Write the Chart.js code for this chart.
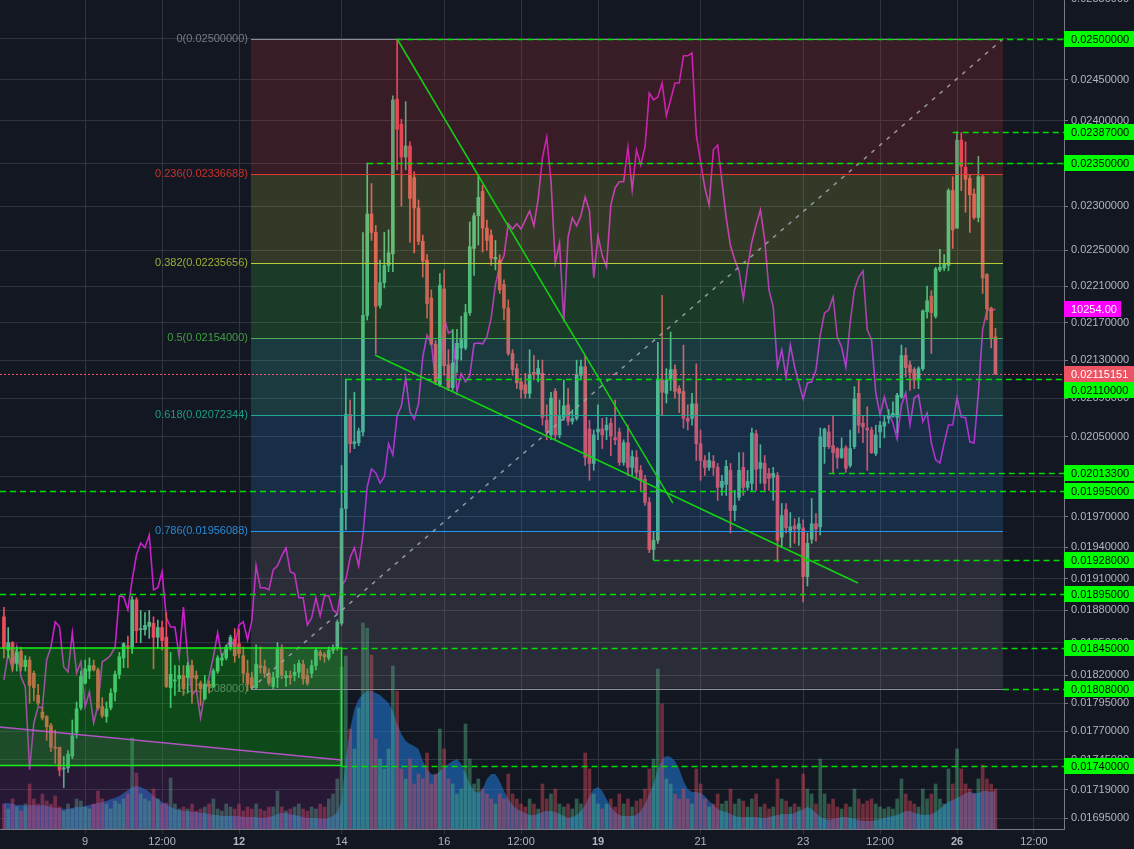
<!DOCTYPE html>
<html><head><meta charset="utf-8">
<script src="https://cdn.jsdelivr.net/npm/chart.js@4.4.0/dist/chart.umd.min.js"></script>
<style>html,body{margin:0;padding:0;background:#131722;overflow:hidden}canvas{display:block}</style>
</head><body>
<canvas id="c" width="1134" height="849"></canvas>
<script>
// ---- time axis (2h candles) ----
const startDay = 7 + 10/24;
const stepDay = 1/12;
// ---- OHLC ----
const open = [
0.01874,0.01843,0.01850,0.01831,0.01842,0.01828,0.01834,0.01822,0.01802,0.01787,
0.01783,0.01775,0.01756,0.01756,0.01737,0.01738,0.01748,0.01769,0.01791,0.01813,
0.01824,0.01829,0.01825,0.01792,0.01783,0.01791,0.01805,0.01821,0.01836,0.01847,
0.01846,0.01890,0.01862,0.01862,0.01865,0.01868,0.01855,0.01864,0.01855,0.01809,
0.01815,0.01817,0.01820,0.01818,0.01829,0.01820,0.01813,0.01799,0.01812,0.01810,
0.01824,0.01834,0.01836,0.01846,0.01853,0.01849,0.01838,0.01822,0.01818,0.01809,
0.01829,0.01828,0.01822,0.01810,0.01818,0.01844,0.01818,0.01820,0.01820,0.01823,
0.01830,0.01820,0.01822,0.01829,0.01841,0.01839,0.01836,0.01843,0.01845,0.01868,
0.01978,0.02073,0.02043,0.02044,0.02055,0.02178,0.02291,0.02270,0.02189,0.02214,
0.02233,0.02246,0.02426,0.02396,0.02357,0.02370,0.02333,0.02298,0.02260,0.02239,
0.02197,0.02147,0.02104,0.02207,0.02125,0.02101,0.02131,0.02143,0.02143,0.02181,
0.02252,0.02289,0.02317,0.02275,0.02267,0.02240,0.02239,0.02212,0.02186,0.02137,
0.02121,0.02107,0.02104,0.02095,0.02117,0.02115,0.02116,0.02067,0.02052,0.02097,
0.02052,0.02070,0.02083,0.02066,0.02069,0.02114,0.02123,0.02058,0.02023,0.02055,
0.02058,0.02057,0.02064,0.02049,0.02055,0.02024,0.02044,0.02019,0.02029,0.02016,
0.02007,0.01984,0.01938,0.01947,0.02109,0.02095,0.02109,0.02120,0.02100,0.02097,
0.02069,0.02069,0.02084,0.02043,0.02026,0.02019,0.02025,0.02019,0.01999,0.02002,
0.02016,0.01976,0.01989,0.02019,0.01999,0.02003,0.02053,0.02018,0.02023,0.02013,
0.02009,0.02011,0.01950,0.01977,0.01955,0.01961,0.01958,0.01959,0.01912,0.01948,
0.01963,0.01960,0.02040,0.02055,0.02041,0.02038,0.02029,0.02039,0.02021,0.02040,
0.02095,0.02064,0.02059,0.02057,0.02033,0.02055,0.02061,0.02069,0.02071,0.02070,
0.02091,0.02135,0.02125,0.02120,0.02109,0.02121,0.02182,0.02199,0.02177,0.02228,
0.02230,0.02233,0.02318,0.02275,0.02377,0.02345,0.02332,0.02314,0.02287,0.02334,
0.02223,0.02186,0.02155];
const high = [
0.01883,0.01864,0.01851,0.01846,0.01846,0.01838,0.01837,0.01824,0.01812,0.01791,
0.01784,0.01777,0.01771,0.01756,0.01748,0.01753,0.01780,0.01796,0.01824,0.01834,
0.01836,0.01834,0.01827,0.01800,0.01796,0.01808,0.01824,0.01841,0.01850,0.01856,
0.01893,0.01892,0.01880,0.01878,0.01880,0.01874,0.01871,0.01870,0.01878,0.01841,
0.01829,0.01829,0.01829,0.01832,0.01834,0.01824,0.01815,0.01820,0.01815,0.01826,
0.01838,0.01840,0.01848,0.01857,0.01863,0.01862,0.01846,0.01834,0.01823,0.01848,
0.01846,0.01834,0.01826,0.01823,0.01850,0.01848,0.01824,0.01824,0.01830,0.01834,
0.01834,0.01826,0.01834,0.01845,0.01843,0.01841,0.01846,0.01848,0.01871,0.02021,
0.02110,0.02088,0.02096,0.02059,0.02270,0.02350,0.02326,0.02278,0.02239,0.02270,
0.02273,0.02430,0.02500,0.02402,0.02423,0.02375,0.02340,0.02307,0.02267,0.02245,
0.02206,0.02151,0.02224,0.02228,0.02141,0.02163,0.02163,0.02177,0.02190,0.02282,
0.02292,0.02336,0.02324,0.02284,0.02273,0.02261,0.02245,0.02217,0.02195,0.02141,
0.02126,0.02111,0.02116,0.02141,0.02135,0.02130,0.02130,0.02083,0.02096,0.02100,
0.02088,0.02109,0.02100,0.02078,0.02130,0.02130,0.02135,0.02067,0.02057,0.02083,
0.02069,0.02070,0.02069,0.02088,0.02059,0.02047,0.02062,0.02036,0.02036,0.02021,
0.02011,0.01989,0.01955,0.02149,0.02200,0.02121,0.02160,0.02125,0.02103,0.02146,
0.02083,0.02095,0.02126,0.02057,0.02031,0.02034,0.02031,0.02023,0.02011,0.02026,
0.02023,0.01996,0.02034,0.02034,0.02016,0.02059,0.02057,0.02042,0.02031,0.02018,
0.02019,0.02014,0.01983,0.01983,0.01974,0.01968,0.01969,0.01967,0.01954,0.01988,
0.01973,0.02059,0.02059,0.02062,0.02072,0.02039,0.02049,0.02041,0.02057,0.02102,
0.02109,0.02072,0.02081,0.02060,0.02062,0.02066,0.02072,0.02078,0.02086,0.02095,
0.02146,0.02143,0.02129,0.02122,0.02123,0.02184,0.02210,0.02205,0.02231,0.02251,
0.02245,0.02320,0.02334,0.02387,0.02386,0.02375,0.02336,0.02320,0.02358,0.02336,
0.02224,0.02187,0.02164];
const low = [
0.01836,0.01836,0.01824,0.01824,0.01824,0.01824,0.01795,0.01797,0.01793,0.01780,
0.01762,0.01752,0.01742,0.01731,0.01721,0.01734,0.01746,0.01764,0.01789,0.01812,
0.01817,0.01824,0.01789,0.01782,0.01778,0.01789,0.01797,0.01817,0.01827,0.01827,
0.01840,0.01850,0.01850,0.01857,0.01854,0.01826,0.01845,0.01843,0.01809,0.01791,
0.01802,0.01806,0.01802,0.01804,0.01795,0.01806,0.01793,0.01798,0.01804,0.01809,
0.01822,0.01829,0.01834,0.01843,0.01832,0.01836,0.01813,0.01806,0.01808,0.01808,
0.01822,0.01818,0.01811,0.01808,0.01809,0.01817,0.01810,0.01812,0.01815,0.01818,
0.01812,0.01811,0.01818,0.01825,0.01834,0.01832,0.01834,0.01840,0.01843,0.01866,
0.01957,0.02034,0.02038,0.02041,0.02051,0.02173,0.02261,0.02137,0.02186,0.02208,
0.02226,0.02226,0.02342,0.02300,0.02342,0.02259,0.02247,0.02256,0.02220,0.02175,
0.02146,0.02104,0.02102,0.02114,0.02098,0.02098,0.02117,0.02130,0.02141,0.02178,
0.02222,0.02256,0.02248,0.02250,0.02233,0.02228,0.02202,0.02173,0.02135,0.02114,
0.02100,0.02090,0.02090,0.02090,0.02109,0.02107,0.02062,0.02047,0.02047,0.02047,
0.02049,0.02067,0.02062,0.02063,0.02067,0.02109,0.02021,0.02006,0.02016,0.02047,
0.02038,0.02047,0.02031,0.02042,0.02021,0.02021,0.02011,0.02011,0.02008,0.01996,
0.01981,0.01935,0.01928,0.01944,0.02072,0.02085,0.02098,0.02090,0.02075,0.02059,
0.02057,0.02062,0.02026,0.02006,0.02011,0.02016,0.02011,0.01986,0.01991,0.01991,
0.01954,0.01966,0.01986,0.01991,0.01996,0.01996,0.01996,0.02003,0.01996,0.01996,
0.01986,0.01926,0.01940,0.01954,0.01940,0.01944,0.01942,0.01888,0.01903,0.01944,
0.01946,0.01952,0.02023,0.02038,0.02013,0.02018,0.02028,0.02014,0.02019,0.02038,
0.02054,0.02044,0.02016,0.02033,0.02031,0.02039,0.02049,0.02064,0.02070,0.02054,
0.02090,0.02112,0.02098,0.02100,0.02100,0.02119,0.02175,0.02137,0.02175,0.02226,
0.02227,0.02227,0.02252,0.02275,0.02318,0.02293,0.02270,0.02285,0.02282,0.02202,
0.02173,0.02143,0.02115];
const close = [
0.01845,0.01850,0.01831,0.01841,0.01828,0.01834,0.01811,0.01809,0.01795,0.01782,
0.01774,0.01756,0.01755,0.01736,0.01738,0.01750,0.01766,0.01790,0.01819,0.01826,
0.01829,0.01825,0.01791,0.01784,0.01790,0.01804,0.01821,0.01837,0.01849,0.01846,
0.01890,0.01861,0.01863,0.01866,0.01869,0.01855,0.01864,0.01852,0.01810,0.01821,
0.01816,0.01820,0.01808,0.01829,0.01818,0.01817,0.01808,0.01812,0.01810,0.01824,
0.01836,0.01836,0.01846,0.01855,0.01838,0.01840,0.01822,0.01812,0.01809,0.01830,
0.01827,0.01822,0.01813,0.01818,0.01844,0.01820,0.01820,0.01818,0.01823,0.01831,
0.01817,0.01813,0.01829,0.01843,0.01838,0.01837,0.01843,0.01845,0.01869,0.01978,
0.02073,0.02043,0.02045,0.02056,0.02178,0.02291,0.02270,0.02188,0.02214,0.02233,
0.02247,0.02425,0.02390,0.02357,0.02370,0.02309,0.02298,0.02260,0.02238,0.02191,
0.02147,0.02107,0.02211,0.02124,0.02101,0.02127,0.02148,0.02152,0.02181,0.02254,
0.02289,0.02310,0.02275,0.02261,0.02241,0.02242,0.02206,0.02186,0.02137,0.02120,
0.02106,0.02099,0.02095,0.02115,0.02115,0.02121,0.02070,0.02055,0.02090,0.02052,
0.02071,0.02082,0.02066,0.02069,0.02115,0.02123,0.02029,0.02023,0.02052,0.02058,
0.02052,0.02062,0.02051,0.02047,0.02024,0.02044,0.02019,0.02030,0.02014,0.02006,
0.01984,0.01938,0.01947,0.02110,0.02096,0.02109,0.02120,0.02097,0.02095,0.02069,
0.02066,0.02084,0.02043,0.02026,0.02019,0.02026,0.02019,0.01999,0.02005,0.02020,
0.01976,0.01981,0.02016,0.01999,0.02005,0.02054,0.02017,0.02024,0.02003,0.02008,
0.02013,0.01947,0.01971,0.01959,0.01960,0.01958,0.01963,0.01912,0.01944,0.01963,
0.01958,0.02050,0.02058,0.02040,0.02034,0.02029,0.02038,0.02018,0.02038,0.02089,
0.02062,0.02060,0.02057,0.02034,0.02052,0.02062,0.02065,0.02072,0.02074,0.02093,
0.02135,0.02122,0.02117,0.02109,0.02121,0.02183,0.02194,0.02181,0.02229,0.02231,
0.02235,0.02318,0.02273,0.02377,0.02346,0.02331,0.02313,0.02287,0.02334,0.02219,
0.02185,0.02154,0.02115151];
// ---- volume (pane units) and its moving-average area ----
const volume = [
25,20,30,22,18,25,45,30,25,35, 28,25,33,22,18,25,20,30,28,22,
20,25,38,30,25,20,28,25,30,35, 91,56,35,30,28,40,30,25,26,51,
25,20,22,20,25,18,20,22,25,30, 20,18,25,22,20,25,18,22,20,25,
20,18,22,22,38,22,18,20,22,25, 20,18,22,20,25,22,30,35,50,162,
173,100,80,121,206,201,174,90,70,60, 80,163,138,60,50,70,45,55,50,76,
45,55,100,80,50,45,35,40,105,70, 45,50,40,35,30,25,35,30,55,35,
30,25,22,30,25,20,45,30,35,40, 25,22,25,20,30,25,76,60,35,25,
20,25,30,22,35,25,30,22,28,30, 40,60,70,160,125,50,45,35,30,40,
30,25,60,45,30,22,25,35,25,28, 40,25,30,28,22,30,35,22,25,20,
22,50,30,28,22,25,22,55,40,35, 25,70,35,25,30,22,20,25,22,40,
30,25,28,30,25,22,20,22,20,30, 50,35,28,25,22,40,30,35,45,30,
25,60,45,80,60,45,40,35,50,64, 50,45,40];
const volumeMA = [
26,26,25,24,24,23,24,24,23,24, 23,22,21,21,20,20,21,22,22,23,
24,25,26,27,28,30,31,33,36,39, 42,43,42,40,37,33,30,27,25,22,
20,19,18,18,17,17,16,16,15,14, 14,13,13,13,13,13,12,12,12,12,
11,11,12,13,15,16,16,15,14,13, 12,11,11,11,10,10,11,13,17,28,
70,100,120,130,135,138,138,136,134,130, 126,118,105,95,88,85,83,80,68,60,
55,54,58,62,65,68,70,65,56,45, 38,36,40,50,55,55,48,38,30,24,
20,18,16,14,14,15,17,18,18,17, 15,13,11,12,14,18,24,33,40,42,
38,30,22,17,14,13,13,13,14,18, 25,35,45,60,70,73,72,68,60,48,
40,37,37,36,33,28,24,20,18,17, 15,13,12,12,12,12,12,11,11,12,
13,14,15,15,15,16,18,20,22,20, 16,12,10,9,10,11,12,12,11,10,
9,8,8,8,9,10,11,12,13,14, 16,18,18,16,15,14,14,15,17,20,
24,27,29,31,33,36,37,36,36,38, 38,37,38];
// ---- compared symbol (magenta line, own scale) ----
const compare = [
9327,9394,9352,9409,9334,9309,9102,9219,9259,9257, 9377,9409,9472,9459,9359,9347,9444,9344,9372,9259,
9297,9219,9264,9372,9379,9389,9409,9537,9534,9502, 9577,9639,9669,9657,9689,9552,9557,9597,9482,9459,
9459,9384,9509,9382,9289,9302,9232,9294,9334,9384, 9444,9382,9409,9427,9409,9464,9472,9427,9474,9612,
9557,9557,9552,9602,9612,9637,9657,9597,9592,9532, 9532,9464,9482,9532,9487,9537,9537,9502,9492,9562,
9577,9632,9657,9612,9689,9809,9854,9844,9819,9834, 9917,9889,9987,10012,10082,9997,9979,10017,10134,10189,
10169,10072,10092,10234,10194,10199,10047,10092,10072,10087, 10167,10169,10167,10184,10232,10314,10364,10387,10467,10454,
10467,10454,10477,10499,10462,10529,10632,10684,10574,10369, 10419,10222,10434,10482,10462,10487,10534,10499,10332,10437,
10387,10359,10514,10557,10572,10572,10659,10552,10652,10614, 10659,10794,10777,10784,10819,10737,10777,10819,10819,10887,
10887,10894,10689,10622,10557,10514,10652,10664,10574,10482, 10412,10377,10349,10279,10359,10422,10464,10502,10427,10302,
10259,10107,10152,10084,10164,10109,10069,10029,10069,10072, 10102,10189,10244,10252,10284,10184,10159,10109,10219,10302,
10334,10349,10202,10177,10044,9989,10034,9994,9969,9929, 10014,10044,9964,10032,10039,9972,9994,9919,9877,9869,
9919,9964,9964,10032,9984,9982,9922,9919,10044,10202, 10252,10249,10254];
const compareLast = 10254.00;
const lastPrice = 0.02115151;
// ---- axes ----
const xTickDays = [9,10.5,12,14,16,17.5,19,21,23,24.5,26,27.5];
const xTickLabels = ['9','12:00','12','14','16','12:00','19','21','23','12:00','26','12:00'];
const boldDays = [12,19,26];
const yTicks = [0.0255,0.025,0.0245,0.024,0.0235,0.023,0.0225,0.0221,0.0217,0.0213,0.0209,0.0205,0.0201,0.0197,0.0194,0.0191,0.0188,0.0185,0.0182,0.01795,0.0177,0.01745,0.01719,0.01695];
// ---- drawings ----
const fibLevels = [0,0.236,0.382,0.5,0.618,0.786,1];
const fibPrices = [0.025,0.02336688,0.02235656,0.02154,0.02072344,0.01956088,0.01808];
const fibStartDay = 12.234, fibEndDay = 26.896;
const rayPrices = [0.025,0.02387,0.0235,0.0211,0.020133,0.01995,0.01928,0.01895,0.01845,0.01808,0.0174];
const rayStartDays = [15.0833,25.9167,14.5,14.0833,23.5,null,20.0833,null,14,26.896,14];
const boxTop = 0.01845, boxBottom = 0.0174, boxEndDay = 14;
const chanStart = [7.3398, 0.017737], chanEnd = [14, 0.017448];
const trendA = [[15.0833,0.025],[20.46,0.019834]];
const trendB = [[14.65,0.021354],[24.07,0.019059]];

const FONT = '"Liberation Sans", Arial, sans-serif';
const GRID = '#30343f';
const fibLine = ['#8a8d96','#e2392f','#b3cc3c','#4caf50','#1eaa96','#2196f3','#8a8d96'];
const fibText = ['#787b86','#c8322b','#9cae33','#3f9e3f','#1c9d88','#2a8ad6','#6f727c'];
const fibFill = ['rgba(204,48,54,0.2)','rgba(175,200,60,0.2)','rgba(60,200,60,0.2)','rgba(55,198,184,0.2)','rgba(44,133,214,0.2)','rgba(134,133,144,0.2)'];

const times = open.map((_, i) => startDay + i * stepDay);
const up = open.map((o, i) => close[i] >= o);
const UPC = '#53b987', DNC = '#eb4d5c';

const drawings = {
  id: 'drawings',
  beforeDraw(chart) {
    const c = chart.ctx; c.save(); c.fillStyle = '#131722'; c.fillRect(0, 0, chart.width, chart.height); c.restore();
  },
  beforeDatasetsDraw(chart) {
    const {ctx, scales: {x, y}} = chart;
    const fx0 = x.getPixelForValue(fibStartDay);
    ctx.save();
    ctx.font = '11px ' + FONT; ctx.textAlign = 'right'; ctx.textBaseline = 'middle';
    fibPrices.forEach((p, i) => {
      ctx.fillStyle = fibText[i];
      ctx.fillText(String(fibLevels[i]) + '(' + p.toFixed(8) + ')', fx0 - 3, y.getPixelForValue(p));
    });
    ctx.restore();
  },
  afterDatasetsDraw(chart) {
    const {ctx, chartArea: a, scales: {x, y}} = chart;
    const X = d => x.getPixelForValue(d), Y = p => y.getPixelForValue(p);
    ctx.save();
    ctx.beginPath(); ctx.rect(a.left, a.top, a.right - a.left, a.bottom - a.top); ctx.clip();
    const fx0 = X(fibStartDay), fx1 = X(fibEndDay), bx = X(boxEndDay);
    ctx.fillStyle = 'rgba(156,39,176,0.15)';
    ctx.beginPath(); ctx.moveTo(a.left, Y(chanStart[1])); ctx.lineTo(bx, Y(chanEnd[1]));
    ctx.lineTo(bx, a.bottom); ctx.lineTo(a.left, a.bottom); ctx.closePath(); ctx.fill();
    for (let i = 0; i < fibPrices.length - 1; i++) {
      const y0 = Y(fibPrices[i]), y1 = Y(fibPrices[i + 1]);
      ctx.fillStyle = fibFill[i]; ctx.fillRect(fx0, y0, fx1 - fx0, y1 - y0);
    }
    const by0 = Y(boxTop), by1 = Y(boxBottom);
    ctx.fillStyle = 'rgba(0,255,0,0.22)'; ctx.fillRect(a.left - 2, by0, bx - a.left + 2, by1 - by0);
    ctx.lineWidth = 1;
    fibPrices.forEach((p, i) => {
      const yy = Math.round(Y(p)) + 0.5;
      ctx.strokeStyle = fibLine[i]; ctx.beginPath(); ctx.moveTo(fx0, yy); ctx.lineTo(fx1, yy); ctx.stroke();
    });
    ctx.setLineDash([4, 6]); ctx.lineWidth = 1.5; ctx.strokeStyle = 'rgba(160,163,172,0.9)';
    ctx.beginPath(); ctx.moveTo(fx0, Y(fibPrices[6])); ctx.lineTo(fx1, Y(fibPrices[0])); ctx.stroke();
    ctx.setLineDash([]);
    ctx.strokeStyle = '#19f019'; ctx.lineWidth = 1.5;
    ctx.beginPath(); ctx.moveTo(a.left, by0); ctx.lineTo(bx, by0); ctx.lineTo(bx, by1); ctx.lineTo(a.left, by1); ctx.stroke();
    ctx.strokeStyle = 'rgba(205,85,225,0.85)'; ctx.lineWidth = 1.5;
    ctx.beginPath(); ctx.moveTo(a.left, Y(chanStart[1])); ctx.lineTo(bx, Y(chanEnd[1])); ctx.stroke();
    ctx.setLineDash([6, 4]); ctx.strokeStyle = '#00e000'; ctx.lineWidth = 1.5;
    rayPrices.forEach((p, i) => {
      const sx = rayStartDays[i] == null ? a.left : X(rayStartDays[i]);
      const yy = Math.round(Y(p)) + 0.5;
      ctx.beginPath(); ctx.moveTo(sx, yy); ctx.lineTo(a.right, yy); ctx.stroke();
    });
    ctx.setLineDash([2, 2]); ctx.strokeStyle = '#f0596a'; ctx.lineWidth = 1;
    const ly = Math.round(Y(lastPrice)) + 0.5;
    ctx.beginPath(); ctx.moveTo(a.left, ly); ctx.lineTo(a.right, ly); ctx.stroke();
    ctx.setLineDash([]);
    ctx.strokeStyle = '#12d212'; ctx.lineWidth = 1.5;
    [trendA, trendB].forEach(t => {
      ctx.beginPath(); ctx.moveTo(X(t[0][0]), Y(t[0][1])); ctx.lineTo(X(t[1][0]), Y(t[1][1])); ctx.stroke();
    });
    ctx.restore();
  },
  afterDraw(chart) {
    const {ctx, chartArea: a, scales: {y, yb}} = chart;
    const items = rayPrices.map(p => ({y: y.getPixelForValue(p), t: p.toFixed(8), bg: '#00ff00', fg: '#000', w: 70}));
    items.push({y: y.getPixelForValue(lastPrice), t: lastPrice.toFixed(8), bg: '#ec5363', fg: '#fff', w: 70, pri: 1});
    items.push({y: yb.getPixelForValue(compareLast), t: compareLast.toFixed(2), bg: '#ff00ff', fg: '#fff', w: 57, pri: 1});
    items.sort((p, q) => p.y - q.y || (q.pri || 0) - (p.pri || 0));
    for (let i = 1; i < items.length; i++) if (items[i].y - items[i - 1].y < 16) items[i].y = items[i - 1].y + 16;
    ctx.save(); ctx.font = '11px ' + FONT; ctx.textBaseline = 'middle'; ctx.textAlign = 'left';
    items.forEach(it => {
      ctx.fillStyle = it.bg; ctx.fillRect(a.right, Math.round(it.y) - 8, it.w, 16);
      ctx.fillStyle = it.fg; ctx.fillText(it.t, a.right + 7, Math.round(it.y) + 0.5);
    });
    ctx.restore();
  }
};

Chart.defaults.font.family = FONT;
Chart.defaults.font.size = 11;

new Chart(document.getElementById('c'), {
  type: 'bar',
  data: {
    datasets: [
      { type: 'line', label: 'Vol MA', yAxisID: 'yv', order: 7,
        data: volumeMA.map((v, i) => ({x: times[i], y: v})),
        fill: 'origin', backgroundColor: 'rgba(30,115,205,0.6)', borderWidth: 0, pointRadius: 0, tension: 0 },
      { type: 'bar', label: 'Volume', yAxisID: 'yv', order: 6, grouped: false, barThickness: 3,
        data: volume.map((v, i) => ({x: times[i], y: v})),
        backgroundColor: up.map(u => u ? 'rgba(83,185,135,0.42)' : 'rgba(235,77,92,0.42)') },
      { type: 'line', label: 'Compare', yAxisID: 'yb', order: 5,
        data: compare.map((v, i) => ({x: times[i], y: v})),
        borderColor: '#cc1fcc', borderWidth: 1.6, pointRadius: 0, tension: 0, fill: false },
      { type: 'bar', label: 'Wick', yAxisID: 'y', order: 4, grouped: false, barThickness: 1,
        data: times.map((t, i) => ({x: t, y: [low[i], high[i]]})),
        backgroundColor: up.map(u => u ? UPC : DNC) },
      { type: 'bar', label: 'Body', yAxisID: 'y', order: 3, grouped: false, barThickness: 3, minBarLength: 1,
        data: times.map((t, i) => ({x: t, y: [open[i], close[i]]})),
        backgroundColor: up.map(u => u ? UPC : DNC) }
    ]
  },
  options: {
    responsive: false, animation: false, devicePixelRatio: 1,
    layout: { padding: 0 },
    plugins: { legend: { display: false }, tooltip: { enabled: false } },
    scales: {
      x: {
        type: 'linear', position: 'bottom', min: 7.3398, max: 28.0863, offset: false,
        grid: { color: GRID, offset: false, tickLength: 5, tickColor: GRID },
        border: { color: '#787b86' },
        afterBuildTicks: s => { s.ticks = xTickDays.map(v => ({value: v})); },
        afterFit: s => { s.height = 20; s.paddingLeft = 0; s.paddingRight = 0; },
        ticks: {
          autoSkip: false, maxRotation: 0, padding: 1, color: '#b2b5be',
          callback: (v, i) => xTickLabels[i],
          font: ctx => ({family: FONT, size: 11, weight: (ctx.tick && boldDays.includes(ctx.tick.value)) ? 'bold' : 'normal'})
        }
      },
      y: {
        type: 'logarithmic', position: 'right', min: 0.016858, max: 0.025491,
        grid: { color: GRID, tickLength: 4, tickColor: '#787b86' },
        border: { color: '#787b86' },
        afterBuildTicks: s => { s.ticks = yTicks.map(v => ({value: v})); },
        afterFit: s => { s.width = 70; s.paddingTop = 0; s.paddingBottom = 0; },
        ticks: { autoSkip: false, padding: 3, color: '#b2b5be', callback: v => Number(v).toFixed(8) }
      },
      yv: { type: 'linear', display: false, min: 0, max: 829 },
      yb: { type: 'linear', display: false, min: 8954, max: 11026.5 }
    }
  },
  plugins: [drawings]
});
</script>
</body></html>
